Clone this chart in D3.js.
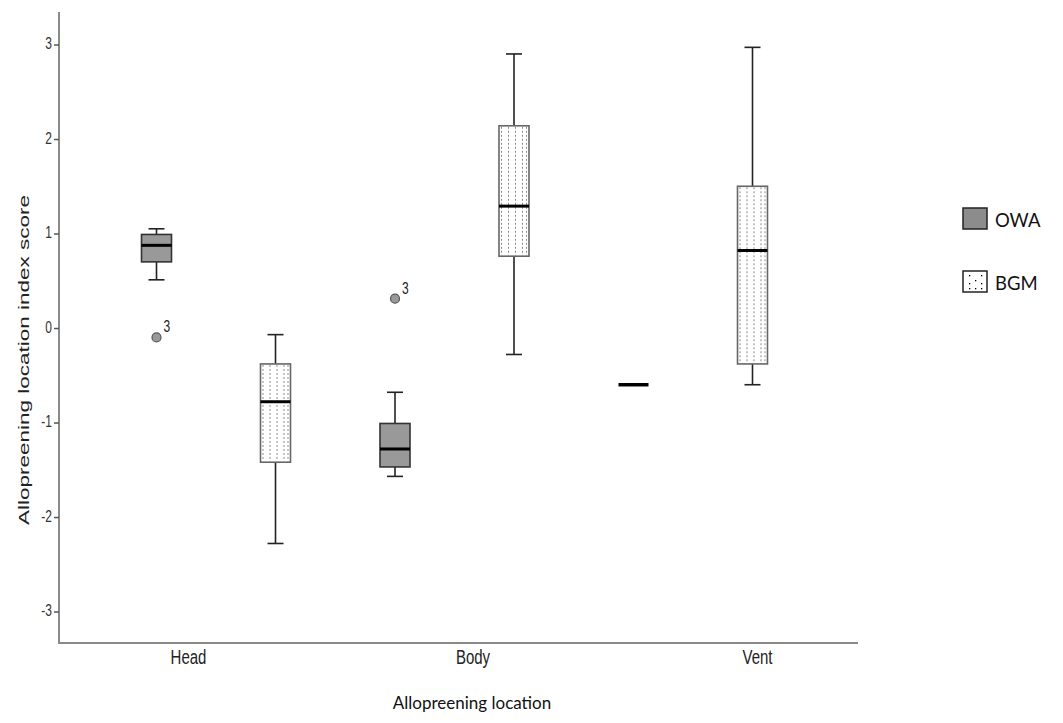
<!DOCTYPE html>
<html><head><meta charset="utf-8">
<script src="https://cdn.jsdelivr.net/npm/d3@7"></script>
<style>body{margin:0;background:#fff}svg{display:block}</style>
</head><body>
<svg id="c" width="1063" height="723"></svg>
<script>
const categories = ["Head","Body","Vent"];
const groups = ["OWA","BGM"];
// [whiskerLow, Q1, median, Q3, whiskerHigh]
const owaStats = [
  [0.51, 0.70, 0.875, 0.99, 1.05],
  [-1.57, -1.47, -1.28, -1.01, -0.68],
  [-0.60, -0.60, -0.60, -0.60, -0.60]
];
const bgmStats = [
  [-2.28, -1.42, -0.78, -0.38, -0.07],
  [-0.28, 0.76, 1.29, 2.14, 2.90],
  [-0.60, -0.38, 0.82, 1.50, 2.97]
];
const outliers = [
  {cat:"Head", group:"OWA", value:-0.10, label:"3"},
  {cat:"Body", group:"OWA", value:0.31, label:"3"}
];
const yTicks = [-3,-2,-1,0,1,2,3];

const ARIAL = "'Liberation Sans', Arial, sans-serif";
const CALIBRI = "Lato, 'Open Sans', sans-serif";
const SY = 1.3; // vertical stretch of the SPSS text

const svg = d3.select("#c");
const y = d3.scaleLinear().domain([-3.333, 3.344]).range([643, 12]);
const xCluster = d3.scalePoint().domain(categories).range([216, 693]);
const xGroup = d3.scalePoint().domain(groups).range([-59.5, 59.5]);
const xLabel = d3.scalePoint().domain(categories).range([188, 757]);
const boxW = 30, capW = 16;

// axes lines
svg.append("line").attr("x1",59).attr("x2",59).attr("y1",12).attr("y2",643)
  .attr("stroke","#8a8a8a").attr("stroke-width",2);
svg.append("line").attr("x1",58).attr("x2",858).attr("y1",643).attr("y2",643)
  .attr("stroke","#8a8a8a").attr("stroke-width",2);

const yAxis = svg.append("g").attr("transform","translate(59,0)")
  .call(d3.axisLeft(y).tickValues(yTicks).tickSize(5).tickFormat(d3.format("d")));
yAxis.select(".domain").remove();
yAxis.selectAll(".tick line").attr("stroke","#555").attr("stroke-width",1.5);
yAxis.selectAll(".tick text").attr("font-family",ARIAL)
  .attr("font-size",12).attr("fill","#333").attr("x",-7).attr("dy",0).attr("y",3.4)
  .attr("transform",`scale(1,${SY})`)
  .text(d => d < 0 ? "-" + Math.abs(d) : d);

const xAxis = svg.append("g").attr("transform","translate(0,643)")
  .call(d3.axisBottom(xLabel).tickSize(0));
xAxis.select(".domain").remove();
xAxis.selectAll(".tick text").attr("font-family",ARIAL)
  .attr("font-size",15).attr("fill","#222").attr("dy",0).attr("y",16.5)
  .attr("transform",`scale(1,${SY})`);

// axis titles
svg.append("text").attr("transform","translate(24,360) rotate(-90) scale(1.5,1)")
  .attr("text-anchor","middle").attr("font-family",ARIAL)
  .attr("font-size",15).attr("fill","#222").attr("dy","0.35em")
  .text("Allopreening location index score");
svg.append("text").attr("x",472).attr("y",709).attr("text-anchor","middle")
  .attr("font-family",CALIBRI).attr("font-size",17).attr("fill","#111")
  .text("Allopreening location");

function drawBox(cat, group, s) {
  const cx = xCluster(cat) + xGroup(group);
  const g = svg.append("g");
  const [lo, q1, med, q3, hi] = s;
  if (q3 - q1 < 0.001) {
    g.append("line").attr("x1",cx-boxW/2).attr("x2",cx+boxW/2)
      .attr("y1",y(med)).attr("y2",y(med)).attr("stroke","#000").attr("stroke-width",3.5);
    return;
  }
  g.append("line").attr("x1",cx).attr("x2",cx).attr("y1",y(hi)).attr("y2",y(q3))
    .attr("stroke","#222").attr("stroke-width",1.6);
  g.append("line").attr("x1",cx).attr("x2",cx).attr("y1",y(q1)).attr("y2",y(lo))
    .attr("stroke","#222").attr("stroke-width",1.6);
  [hi, lo].forEach(v => g.append("line").attr("x1",cx-capW/2).attr("x2",cx+capW/2)
    .attr("y1",y(v)).attr("y2",y(v)).attr("stroke","#222").attr("stroke-width",1.6));
  const x0 = cx - boxW/2;
  g.append("rect").attr("x",x0).attr("y",y(q3)).attr("width",boxW).attr("height",y(q1)-y(q3))
    .attr("fill", group === "OWA" ? "#999999" : "#ffffff").attr("stroke","none");
  if (group === "BGM") {
    [2.5, 9.5, 16.5, 23.5, 27.5].forEach(o => g.append("line")
      .attr("x1",x0+o).attr("x2",x0+o).attr("y1",y(q3)+1).attr("y2",y(q1)-1)
      .attr("stroke","#8a8a8a").attr("stroke-width",1).attr("stroke-dasharray","2,2"));
  }
  g.append("rect").attr("x",x0).attr("y",y(q3)).attr("width",boxW).attr("height",y(q1)-y(q3))
    .attr("fill","none").attr("stroke", group === "OWA" ? "#333" : "#666").attr("stroke-width",1.6);
  g.append("line").attr("x1",x0).attr("x2",x0+boxW).attr("y1",y(med)).attr("y2",y(med))
    .attr("stroke","#000").attr("stroke-width",3);
}
categories.forEach((c,i) => {
  drawBox(c, "OWA", owaStats[i]);
  drawBox(c, "BGM", bgmStats[i]);
});

outliers.forEach(o => {
  const cx = xCluster(o.cat) + xGroup(o.group);
  svg.append("circle").attr("cx",cx).attr("cy",y(o.value)).attr("r",4.5)
    .attr("fill","#999").attr("stroke","#555").attr("stroke-width",1.2);
  svg.append("text").attr("transform",`translate(${cx+7},${y(o.value)-5}) scale(1,${SY})`)
    .attr("font-family",ARIAL).attr("font-size",12).attr("fill","#222")
    .text(o.label);
});

// legend
const leg = svg.append("g");
groups.forEach((gname, i) => {
  const ly = 208 + i*63;
  leg.append("rect").attr("x",963).attr("y",ly).attr("width",24).attr("height",21)
    .attr("fill", gname === "OWA" ? "#8c8c8c" : "#fff").attr("stroke","#222").attr("stroke-width",1.5);
  if (gname === "BGM") {
    [[969,ly+4],[981,ly+4],[975,ly+9],[969,ly+12],[981,ly+12],[969,ly+17],[975,ly+17],[981,ly+17]]
      .forEach(p => leg.append("rect").attr("x",p[0]).attr("y",p[1]).attr("width",1.3).attr("height",1.3).attr("fill","#000"));
  }
  leg.append("text").attr("x",995).attr("y",ly+19)
    .attr("font-family",CALIBRI).attr("font-size",18.5).attr("fill","#111")
    .text(gname);
});
</script>
</body></html>
